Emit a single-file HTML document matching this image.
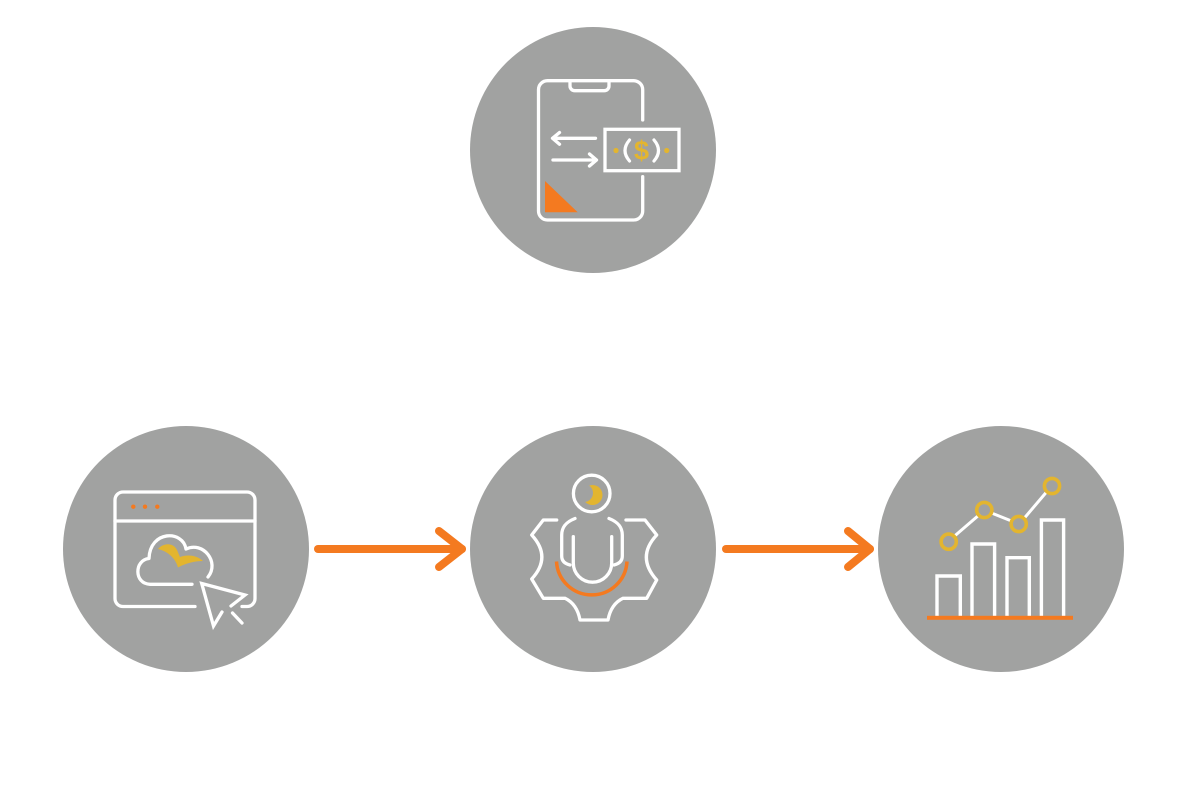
<!DOCTYPE html>
<html><head><meta charset="utf-8"><style>
html,body{margin:0;padding:0;background:#fff;}
svg{display:block;}
</style></head><body>
<svg width="1200" height="810" viewBox="0 0 1200 810" xmlns="http://www.w3.org/2000/svg">
<defs>
<mask id="moon">
<rect x="570" y="470" width="50" height="50" fill="#fff"/>
<circle cx="584" cy="493" r="9" fill="#000"/>
</mask>
</defs>
<rect width="1200" height="810" fill="#ffffff"/>
<g fill="#a1a2a1">
<circle cx="593" cy="150" r="123"/>
<circle cx="186" cy="549" r="123"/>
<circle cx="593" cy="549" r="123"/>
<circle cx="1001" cy="549" r="123"/>
</g>
<!-- connectors -->
<g stroke="#f47a20" stroke-width="8" stroke-linecap="round" stroke-linejoin="round" fill="none">
<line x1="318" y1="549" x2="462" y2="549"/>
<polyline points="439,531 462,549 439,567"/>
<line x1="726" y1="549" x2="870" y2="549"/>
<polyline points="848,531 870,549 848,567"/>
</g>

<!-- top icon: phone + money -->
<g fill="none" stroke="#fff" stroke-width="3.3" stroke-linecap="round" stroke-linejoin="round">
<path d="M642.7,120 V89.7 A9,9 0 0 0 633.7,80.7 H547.5 A9,9 0 0 0 538.5,89.7 V211 A9,9 0 0 0 547.5,220 H633.7 A9,9 0 0 0 642.7,211 V176.7"/>
<path d="M570,80.7 V86 A4.7,4.7 0 0 0 574.7,90.7 H604.3 A4.7,4.7 0 0 0 609,86 V80.7"/>
<rect x="605" y="129.3" width="74" height="41.4" stroke-linejoin="miter"/>
<line x1="553" y1="138.3" x2="595.5" y2="138.3"/>
<polyline points="559.5,132.5 552.5,138.3 559.5,144.2"/>
<line x1="553" y1="160" x2="596" y2="160"/>
<polyline points="589.5,154 596.5,160 589.5,166"/>
<path d="M629.5,140 Q620.5,150.5 629.5,161" stroke-width="3.2"/>
<path d="M654,140 Q663,150.5 654,161" stroke-width="3.2"/>
</g>
<circle cx="616" cy="150.5" r="2.6" fill="#e3b52f"/>
<circle cx="666.7" cy="150.5" r="2.6" fill="#e3b52f"/>
<text x="641.5" y="159.5" font-family="Liberation Sans, sans-serif" font-weight="bold" font-size="27" fill="#e3b52f" text-anchor="middle">$</text>
<polygon points="545,181 545,212.3 577.7,212.3" fill="#f47a20"/>

<!-- left icon: browser + cloud + cursor -->
<g fill="none" stroke="#fff" stroke-width="3.3" stroke-linecap="round" stroke-linejoin="round">
<path d="M195,606.5 H123 A8,8 0 0 1 115,598.5 V500 A8,8 0 0 1 123,492 H247 A8,8 0 0 1 255,500 V598.5 A8,8 0 0 1 247,606.5 H242"/>
<line x1="115" y1="521" x2="255" y2="521"/>
<path d="M192,584.3 H150 C134,584 134,560 149,558.5 C150,530 183,530 186,549 C203,541 220,562 208,577"/>
<path d="M222,612 L213.5,626 L201.7,583.5 L245,595 L231,606" stroke-linejoin="miter"/>
<line x1="232.5" y1="613" x2="242" y2="623"/>
</g>
<g fill="#f47a20">
<circle cx="133.3" cy="506.7" r="2.2"/>
<circle cx="145" cy="506.7" r="2.2"/>
<circle cx="157.3" cy="506.7" r="2.2"/>
</g>
<path d="M158,549 C163,543 173,542 177,550 L180,557 C186,555 195,554 203,561 C195,561 186,563 178,567.5 C176,560 170,552 158,549 Z" fill="#e3b52f"/>

<!-- middle icon: person + gear -->
<g fill="none" stroke="#fff" stroke-width="3.3" stroke-linecap="round" stroke-linejoin="round">
<circle cx="591.7" cy="493.5" r="18.3"/>
<path d="M556.7,520 H543.3 L531.7,535 Q552,557 531.7,579 L543.3,598.3 H565 Q577,604 580,620 H608 Q611,604 623,598.3 H646.7 L656.7,580 Q636,557 656.7,535 L645,520 H626"/>
<path d="M575,518.5 C566,522 561.7,527 561.7,535 V556 Q561.7,563 570,565"/>
<path d="M609,518.5 C618,522 622.3,527 622.3,535 V556 Q622.3,563 614,565"/>
<path d="M573.3,536.7 V563 A19.2,19.2 0 0 0 611.7,563 V536.7"/>
</g>
<path d="M556.5,561.5 A35.3,35.3 0 0 0 627,561.5" fill="none" stroke="#f47a20" stroke-width="3.5" stroke-linecap="butt"/>
<circle cx="592.5" cy="495" r="10" fill="#e3b52f" mask="url(#moon)"/>

<!-- right icon: bar chart -->
<g fill="none" stroke="#fff" stroke-width="3.4" stroke-linejoin="miter">
<path d="M937,617 V576 H960.3 V617"/>
<path d="M972,617 V544 H994.6 V617"/>
<path d="M1007,617 V557.7 H1029.3 V617"/>
<path d="M1041.4,617 V520 H1063.6 V617"/>
</g>
<g stroke="#fff" stroke-width="3" stroke-linecap="round">
<line x1="954" y1="536.5" x2="979" y2="515"/>
<line x1="991.5" y1="513" x2="1011.5" y2="521"/>
<line x1="1024" y1="518.5" x2="1046.5" y2="492"/>
</g>
<g fill="none" stroke="#e3b52f" stroke-width="3.6">
<circle cx="948.7" cy="541.7" r="7.6"/>
<circle cx="984.3" cy="510" r="7.6"/>
<circle cx="1018.7" cy="524" r="7.6"/>
<circle cx="1052" cy="486" r="7.6"/>
</g>
<rect x="927" y="615.8" width="146" height="4" fill="#f47a20"/>
</svg>
</body></html>
